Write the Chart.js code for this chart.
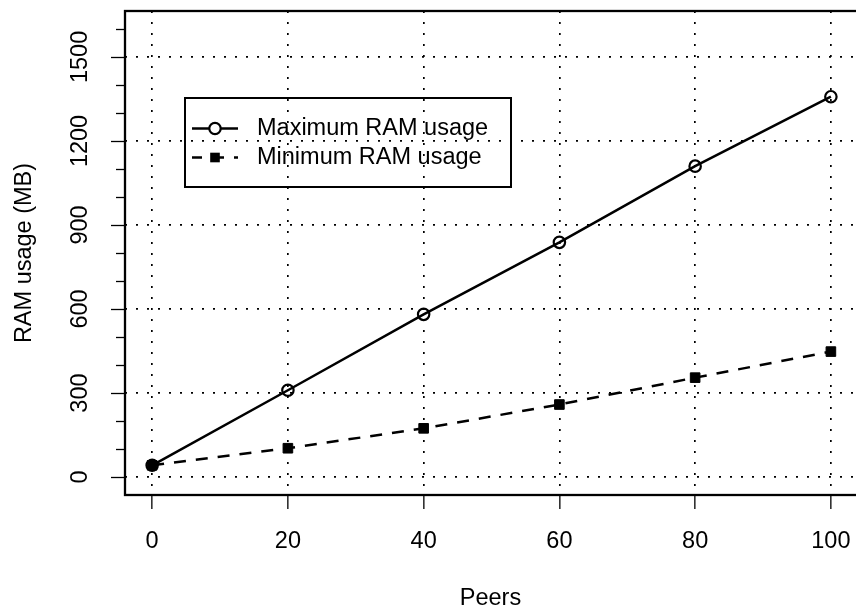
<!DOCTYPE html>
<html lang="en">
<head>
<meta charset="UTF-8">
<title>RAM usage by peers</title>
<style>
    html, body { margin: 0; padding: 0; background: #fff; }
    #wrap { width: 856px; height: 610px; }
</style>
<script src="https://cdn.jsdelivr.net/npm/chart.js"></script>
</head>
<body>
<div id="wrap"><canvas id="ramChart" width="856" height="610"></canvas></div>
<script>
    // values
    const peers = [0, 20, 40, 60, 80, 100];
    const maxRam = [42, 310, 581, 838, 1110, 1358];
    const minRam = [42, 103, 174, 259, 355, 448];

    const xTicks = [0, 20, 40, 60, 80, 100];
    const yTicks = [0, 100, 200, 300, 400, 500, 600, 700, 800, 900, 1000, 1100, 1200, 1300, 1400, 1500, 1600];
    const yLabels = [0, 300, 600, 900, 1200, 1500];

    const seriesNames = ['Maximum RAM usage', 'Minimum RAM usage'];

    const FONT = '"Liberation Sans", Arial, Helvetica, sans-serif';
    const FS = 23.5;

    function toPoints(xs, ys) {
        return xs.map((x, i) => ({ x: x, y: ys[i] }));
    }

    // R-like frame, y ticks (rotated labels) and the legend box
    const rStyle = {
        id: 'rStyle',
        afterDraw(chart) {
            const ctx = chart.ctx;
            const a = chart.chartArea;
            const ys = chart.scales.y;

            ctx.save();
            ctx.strokeStyle = '#000';
            ctx.fillStyle = '#000';

            // box (right side falls off the canvas like in the reference)
            ctx.lineWidth = 2.3;
            ctx.strokeRect(a.left, a.top, a.right - a.left + 4, a.bottom - a.top);

            // y ticks + labels
            ctx.lineWidth = 1.3;
            ctx.font = FS + 'px ' + FONT;
            ctx.textAlign = 'center';
            ctx.textBaseline = 'middle';
            yTicks.forEach(v => {
                const py = Math.round(ys.getPixelForValue(v)) + 0.5;
                const major = yLabels.includes(v);
                const len = major ? 14 : 9;
                ctx.beginPath();
                ctx.moveTo(a.left - len, py);
                ctx.lineTo(a.left, py);
                ctx.stroke();
                if (major) {
                    ctx.save();
                    ctx.translate(80.5, ys.getPixelForValue(v));
                    ctx.rotate(-Math.PI / 2);
                    ctx.fillText(String(v), 0, 0);
                    ctx.restore();
                }
            });

            // legend
            const box = { x: 185, y: 98, w: 326, h: 89 };
            ctx.lineWidth = 2;
            ctx.strokeRect(box.x, box.y, box.w, box.h);
            const rows = [128.5, 157.5];
            chart.data.datasets.forEach((ds, i) => {
                const y = rows[i];
                ctx.save();
                ctx.lineWidth = ds.borderWidth;
                ctx.setLineDash(ds.borderDash || []);
                ctx.lineDashOffset = 2;
                ctx.beginPath();
                ctx.moveTo(192, y);
                ctx.lineTo(238, y);
                ctx.stroke();
                ctx.restore();
                const cx = 215;
                if (ds.pointStyle === 'circle') {
                    ctx.save();
                    ctx.lineWidth = ds.pointBorderWidth;
                    ctx.fillStyle = '#fff';
                    ctx.beginPath();
                    ctx.arc(cx, y, ds.pointRadius, 0, Math.PI * 2);
                    ctx.fill();
                    ctx.stroke();
                    ctx.restore();
                } else {
                    const s = Math.SQRT1_2 * ds.pointRadius;
                    ctx.fillRect(cx - s, y - s, 2 * s, 2 * s);
                }
                ctx.textAlign = 'left';
                ctx.fillText(ds.label, 257, y);
            });
            ctx.restore();
        }
    };

    const ctx = document.getElementById('ramChart').getContext('2d');
    new Chart(ctx, {
        type: 'line',
        data: {
            datasets: [
                {
                    label: seriesNames[0],
                    data: toPoints(peers, maxRam),
                    borderColor: '#000',
                    borderWidth: 2.5,
                    pointStyle: 'circle',
                    pointRadius: 5.7,
                    pointBorderWidth: 2.2,
                    pointBorderColor: '#000',
                    pointBackgroundColor: 'rgba(0,0,0,0)',
                    tension: 0,
                    fill: false
                },
                {
                    label: seriesNames[1],
                    data: toPoints(peers, minRam),
                    borderColor: '#000',
                    borderWidth: 2.5,
                    borderDash: [12, 10],
                    pointStyle: 'rect',
                    pointRadius: 6.8,
                    pointBorderWidth: 1,
                    pointBorderColor: '#000',
                    pointBackgroundColor: '#000',
                    tension: 0,
                    fill: false
                }
            ]
        },
        options: {
            responsive: false,
            animation: false,
            devicePixelRatio: 1,
            layout: { padding: { left: 0, right: 0, top: 11, bottom: 0 }, autoPadding: false },
            plugins: {
                legend: { display: false },
                tooltip: { enabled: false }
            },
            scales: {
                x: {
                    type: 'linear',
                    min: -4,
                    max: 103.7,
                    afterBuildTicks: s => { s.ticks = xTicks.map(v => ({ value: v })); },
                    afterFit: s => {
                        s.height = 115;
                        s.paddingLeft = 0;
                        s.paddingRight = 0;
                    },
                    grid: {
                        color: '#000',
                        lineWidth: 1.7,
                        drawTicks: true,
                        tickLength: 14,
                        tickColor: '#000',
                        tickWidth: 1.3
                    },
                    border: { display: false, dash: [2, 9] },
                    ticks: {
                        color: '#000',
                        font: { family: FONT, size: FS },
                        padding: 18,
                        maxRotation: 0,
                        autoSkip: false
                    },
                    title: {
                        display: true,
                        text: 'Peers',
                        color: '#000',
                        font: { family: FONT, size: FS },
                        padding: { top: 0, bottom: -3 }
                    }
                },
                y: {
                    min: -64,
                    max: 1664,
                    afterBuildTicks: s => { s.ticks = yTicks.map(v => ({ value: v })); },
                    afterFit: s => {
                        s.width = 125;
                        s.paddingTop = 0;
                        s.paddingBottom = 0;
                    },
                    grid: {
                        color: c => yLabels.includes(c.tick.value) ? '#000' : 'rgba(0,0,0,0)',
                        lineWidth: 1.7,
                        drawTicks: false
                    },
                    border: { display: false, dash: [2, 9] },
                    ticks: { display: false },
                    title: {
                        display: true,
                        text: 'RAM usage (MB)',
                        color: '#000',
                        font: { family: FONT, size: FS },
                        padding: { top: 10, bottom: 0 }
                    }
                }
            }
        },
        plugins: [rStyle]
    });
</script>
</body>
</html>
